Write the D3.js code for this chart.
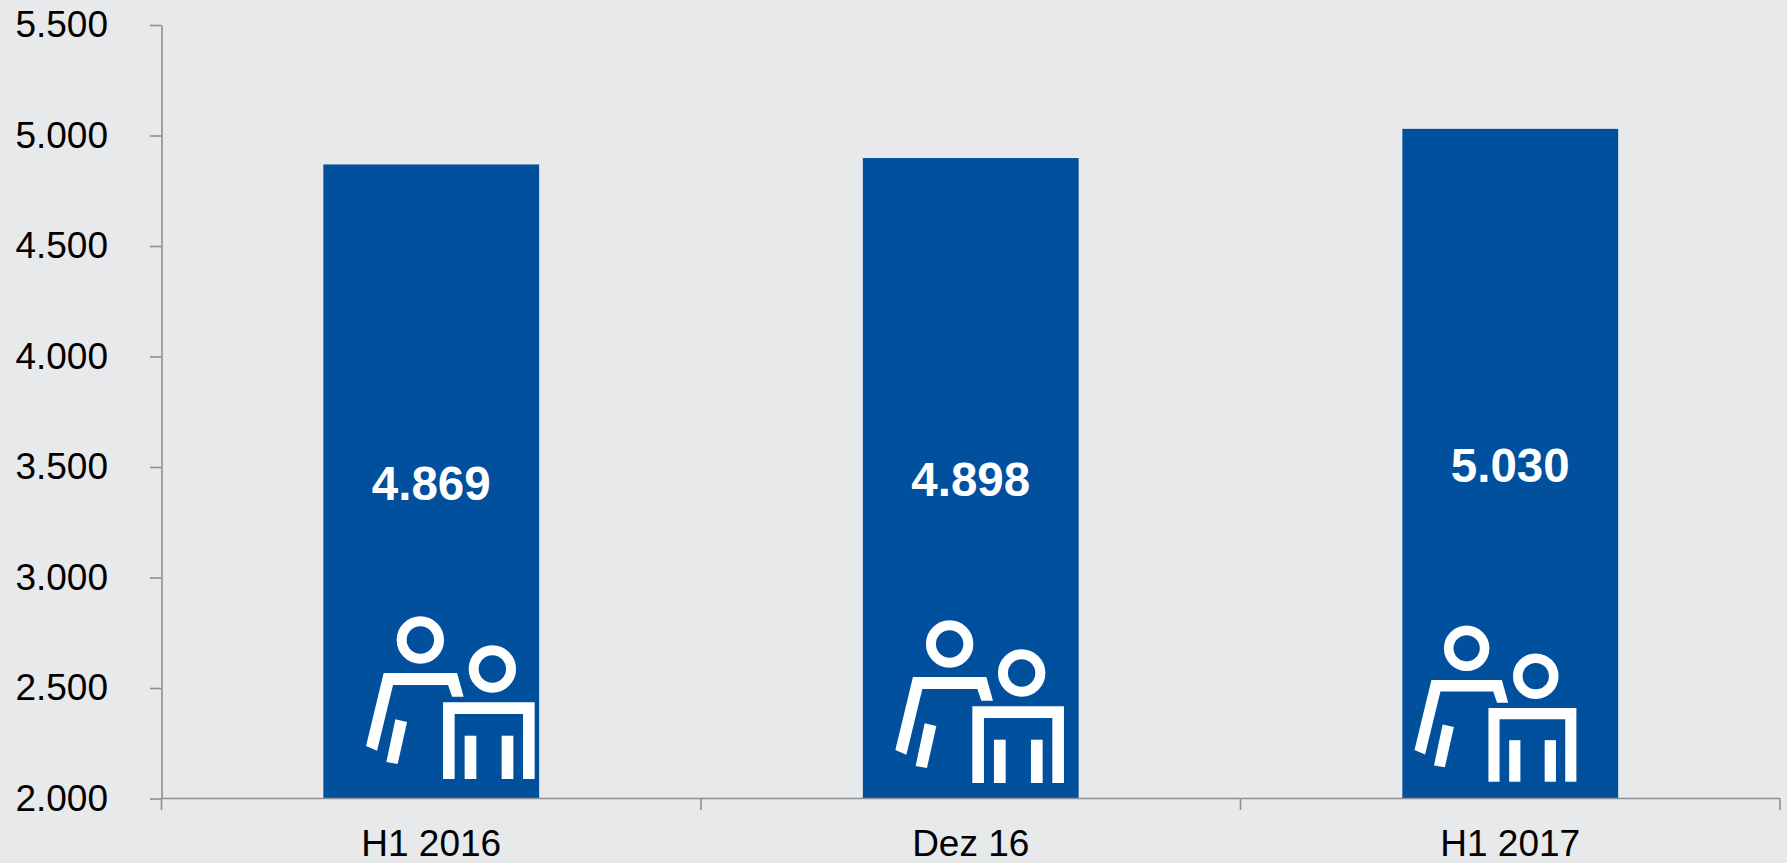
<!DOCTYPE html>
<html><head><meta charset="utf-8">
<script src="https://cdn.jsdelivr.net/npm/d3@7"></script>
<style>
html,body{margin:0;padding:0;background:#e8e9eb;overflow:hidden}
svg{display:block}
text{font-family:"Liberation Sans",Arial,sans-serif;fill:#000}
</style></head><body>
<svg id="c" width="1787" height="863"></svg>
<script>
const categories = ["H1 2016","Dez 16","H1 2017"];
const values = [4869,4898,5030];
const valueLabels = ["4.869","4.898","5.030"];
const yTicks = [2000,2500,3000,3500,4000,4500,5000,5500];
const yTickLabels = ["2.000","2.500","3.000","3.500","4.000","4.500","5.000","5.500"];

const svg = d3.select("#c");
const x = d3.scaleBand().domain(categories).range([161.5,1780]).paddingInner(0.6).paddingOuter(0.3);
const y = d3.scaleLinear().domain([2000,5500]).range([798.5,25]);
const AXIS="#8e8f91", BLUE="#00509e";

// bars
svg.selectAll("rect.bar").data(categories).join("rect").attr("class","bar")
  .attr("x",d=>x(d)).attr("width",x.bandwidth())
  .attr("y",(d,i)=>y(values[i])).attr("height",(d,i)=>y(2000)-y(values[i]))
  .attr("fill",BLUE);

// y axis
const gy = svg.append("g").attr("transform","translate(161.5,0)")
  .call(d3.axisLeft(y).tickValues(yTicks).tickSize(11.5).tickSizeOuter(0).tickPadding(42)
    .tickFormat((d,i)=>yTickLabels[i]));
gy.selectAll("path,line").attr("stroke",AXIS).attr("stroke-width",1.6);
gy.selectAll("text").attr("font-size",37).attr("dy","0.32em").attr("fill","#000");

// x axis: ticks sit on the band boundaries
const step = x.step();
const boundaries = d3.range(categories.length+1).map(i=>161.5+i*step);
const gx = svg.append("g").attr("transform",`translate(0,${y(2000)})`);
gx.append("line").attr("x1",boundaries[0]).attr("x2",boundaries[3]).attr("stroke",AXIS).attr("stroke-width",1.6);
gx.selectAll("line.t").data(boundaries).join("line").attr("class","t")
  .attr("x1",d=>d).attr("x2",d=>d).attr("y1",0).attr("y2",11.5)
  .attr("stroke",AXIS).attr("stroke-width",1.6);
gx.selectAll("text").data(categories).join("text")
  .attr("x",d=>x(d)+x.bandwidth()/2).attr("y",57).attr("text-anchor","middle")
  .attr("font-size",37).text(d=>d);

// value labels, centred in each bar
svg.selectAll("text.v").data(categories).join("text").attr("class","v")
  .attr("x",d=>x(d)+x.bandwidth()/2)
  .attr("y",(d,i)=>(y(values[i])+y(2000))/2+1.5)
  .attr("dy","0.35em").attr("text-anchor","middle")
  .attr("font-size",47.5).attr("font-weight","bold").style("fill","#fff")
  .text((d,i)=>valueLabels[i]);

// people icons (drawn in a local coordinate system)
const iconPlace = [
  {dx:17,  oy:590,   s:1},
  {dx:6.8, oy:594,   s:1},
  {dx:-12.5, oy:600.3, s:0.96}
];
function icon(g){
  g.append("circle").attr("cx",80).attr("cy",50).attr("r",18.7).attr("fill","none").attr("stroke","#fff").attr("stroke-width",10);
  g.append("circle").attr("cx",152).attr("cy",79).attr("r",18.7).attr("fill","none").attr("stroke","#fff").attr("stroke-width",10);
  const polys = [
    [[43.3,83],[116.7,83],[123.3,106.7],[111.7,106.7],[107.7,95],[52.7,95],[36.7,160.7],[25.7,156]],
    [[55,129.3],[66.7,132],[57.3,174],[46,172]],
    [[102.7,112.3],[194.3,112.3],[194.3,189],[182.7,189],[182.7,124],[114.3,124],[114.3,189],[102.7,189]],
    [[124.3,145.7],[136,145.7],[136,189],[124.3,189]],
    [[161.3,145.7],[173,145.7],[173,189],[161.3,189]]
  ];
  g.selectAll("polygon").data(polys).join("polygon")
    .attr("points",d=>d.map(p=>p.join(",")).join(" ")).attr("fill","#fff");
}
svg.selectAll("g.icon").data(categories).join("g").attr("class","icon")
  .attr("transform",(d,i)=>`translate(${x(d)+iconPlace[i].dx},${iconPlace[i].oy}) scale(${iconPlace[i].s})`)
  .each(function(){icon(d3.select(this));});
</script>
</body></html>
